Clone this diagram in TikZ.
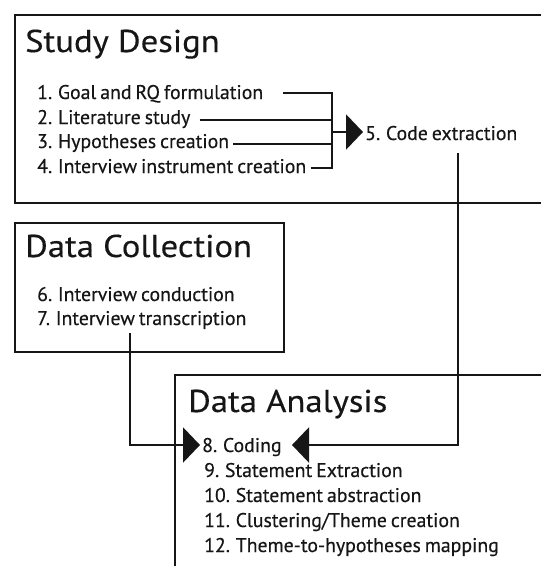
\documentclass[tikz,border=0pt]{standalone}
\usepackage{fontspec}
\setmainfont[FakeBold=0.35]{PT Sans}
\newfontfamily\itemfont[FakeBold=0.35,WordSpace=0.75]{PT Sans}
\newfontfamily\titlefont[FakeStretch=1.1,FakeBold=0.35]{PT Sans}
\usetikzlibrary{arrows.meta}
\definecolor{ink}{HTML}{161616}
\tikzset{
  x=1pt, y=-1pt,
  panel/.style={draw=ink, line width=2.7pt},
  ttl/.style={anchor=base west, inner sep=0pt, text=ink, font=\titlefont\fontsize{31.5}{31.5}\selectfont},
  itm/.style={anchor=base west, inner sep=0pt, text=ink, font=\itemfont\fontsize{19.8}{19.8}\selectfont},
  conn/.style={draw=ink, line width=2.5pt},
  bigtip/.style={-{Triangle[length=17pt, width=35pt]}}
}
\begin{document}
\begin{tikzpicture}
\useasboundingbox (0,0) rectangle (541,566);
\clip (0,0) rectangle (541,566);
\fill[white] (0,0) rectangle (541,566);
% panels
\draw[panel] (15,15) rectangle (542,203);
\draw[panel] (15,223) rectangle (284,352);
\draw[panel] (175,375) rectangle (580,620);
% titles
\node[ttl] (sd) at (25,52) {Study Design};
\node[ttl] (dc) at (25,257) {Data Collection};
\node[ttl] (da) at (188,412) {Data Analysis};
% study design items
\node[itm] (t1) at (37,99) {1. Goal and RQ formulation};
\node[itm] (t2) at (37,124) {2. Literature study};
\node[itm] (t3) at (37,148) {3. Hypotheses creation};
\node[itm] (t4) at (37,173) {4. Interview instrument creation};
\node[itm] (t5) at (365,140) {5. Code extraction};
% data collection items
\node[itm] (t6) at (37,301) {6. Interview conduction};
\node[itm] (t7) at (37,325) {7. Interview transcription};
% data analysis items
\node[itm] (t8) at (202,452) {8. Coding};
\node[itm] (t9) at (204,477) {9. Statement Extraction};
\node[itm] (t10) at (204,502) {10. Statement abstraction};
\node[itm] (t11) at (204,527) {11. Clustering/Theme creation};
\node[itm] (t12) at (204,552) {12. Theme-to-hypotheses mapping};
% junction coordinates
\coordinate (b1) at (332,93);
\coordinate (b4) at (332,168);
\coordinate (bm) at (332,132);
\coordinate (s1) at ([xshift=20pt]t1.east |- b1);
\coordinate (s2) at ([xshift=9pt]t2.east |- 0,120);
\coordinate (s3) at ([xshift=4pt]t3.east |- 0,144);
\coordinate (s4) at ([xshift=5pt]t4.east |- b4);
\coordinate (a5) at (363,132);
\coordinate (c5) at (458,153);
\coordinate (c5b) at (458,445);
\coordinate (a8r) at (292,445);
\coordinate (c7) at (130,333);
\coordinate (c7b) at (130,445);
\coordinate (a8l) at (200,445);
% connectors
\draw[conn] (s1) -- (b1) -- (b4) -- (s4);
\draw[conn] (s2) -- (s2 -| b1);
\draw[conn] (s3) -- (s3 -| b1);
\draw[conn, bigtip] (bm) -- (a5);
\draw[conn, bigtip] (c5) -- (c5b) -- (a8r);
\draw[conn, bigtip] (c7) -- (c7b) -- (a8l);
\end{tikzpicture}
\end{document}
